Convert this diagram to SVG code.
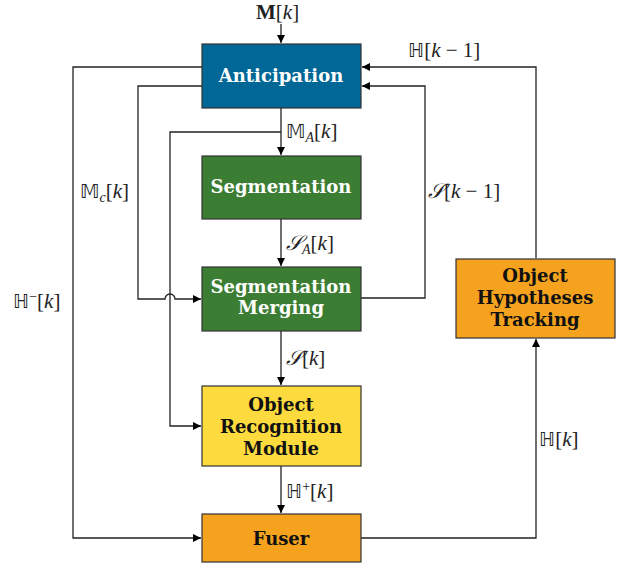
<svg xmlns="http://www.w3.org/2000/svg" width="624" height="567" viewBox="0 0 624 567">
<style>
.box{stroke:#333;stroke-width:1.2}
.t{font-family:"DejaVu Serif","Liberation Serif",serif;font-weight:bold;font-size:18px;text-anchor:middle}
.w{fill:#fff}
.k{fill:#111}
.m{font-family:"Liberation Serif","DejaVu Serif",serif;font-size:21px;fill:#222}
.ds{font-family:"DejaVu Sans",sans-serif;font-size:19px}
.c{fill:none;stroke:#222;stroke-width:1.3}
</style>
<defs>
<marker id="a" viewBox="0 0 10 10" refX="10" refY="5" markerWidth="8" markerHeight="8" markerUnits="userSpaceOnUse" orient="auto">
<path d="M0,0 L10,5 L0,10 z" fill="#000"/>
</marker>
</defs>
<rect width="624" height="567" fill="#fff"/>
<g id="connectors">
<path class="c" d="M281,24 V43" marker-end="url(#a)"/>
<path class="c" d="M281,108 V155" marker-end="url(#a)"/>
<path class="c" d="M281,132 H170 V426 H201" marker-end="url(#a)"/>
<path class="c" d="M281,219 V266" marker-end="url(#a)"/>
<path class="c" d="M281,331 V385" marker-end="url(#a)"/>
<path class="c" d="M281,466 V513" marker-end="url(#a)"/>
<path class="c" d="M202,67 H73 V538 H201" marker-end="url(#a)"/>
<path class="c" d="M202,86 H138 V299 H165 A5,5 0 0 1 175,299 H201" marker-end="url(#a)"/>
<path class="c" d="M361,298 H425 V86 H362" marker-end="url(#a)"/>
<path class="c" d="M536,258 V67 H362" marker-end="url(#a)"/>
<path class="c" d="M361,538 H536 V339" marker-end="url(#a)"/>
</g>
<g id="anticipation">
<rect class="box" x="202" y="44" width="159" height="64" fill="#006796"/>
<text class="t w" x="281" y="82">Anticipation</text>
</g>
<g id="segmentation">
<rect class="box" x="202" y="156" width="159" height="63" fill="#3b7d32"/>
<text class="t w" x="281" y="193">Segmentation</text>
</g>
<g id="segmentation-merging">
<rect class="box" x="202" y="267" width="159" height="64" fill="#3b7d32"/>
<text class="t w" x="281" y="293">Segmentation</text>
<text class="t w" x="281" y="314">Merging</text>
</g>
<g id="object-recognition">
<rect class="box" x="202" y="386" width="159" height="80" fill="#fddb3e"/>
<text class="t k" x="281" y="411">Object</text>
<text class="t k" x="281" y="433">Recognition</text>
<text class="t k" x="281" y="455">Module</text>
</g>
<g id="fuser">
<rect class="box" x="202" y="514" width="159" height="48" fill="#f5a31e"/>
<text class="t k" x="281" y="545">Fuser</text>
</g>
<g id="tracking">
<rect class="box" x="456" y="259" width="159" height="79" fill="#f5a31e"/>
<text class="t k" x="535" y="282">Object</text>
<text class="t k" x="535" y="304">Hypotheses</text>
<text class="t k" x="535" y="326">Tracking</text>
</g>
<g id="labels">
<text class="m" x="256" y="19"><tspan font-weight="bold">M</tspan>[<tspan font-style="italic">k</tspan>]</text>
<text class="m" x="408" y="57"><tspan class="ds">ℍ</tspan>[<tspan font-style="italic">k</tspan> − 1]</text>
<text class="m" x="286" y="138"><tspan class="ds">𝕄</tspan><tspan font-style="italic" font-size="14" dy="4">A</tspan><tspan dy="-4">[</tspan><tspan font-style="italic">k</tspan>]</text>
<text class="m" x="80" y="198"><tspan class="ds">𝕄</tspan><tspan font-style="italic" font-size="14" dy="4">c</tspan><tspan dy="-4">[</tspan><tspan font-style="italic">k</tspan>]</text>
<text class="m" x="428" y="198"><tspan font-style="italic">𝒮</tspan>[<tspan font-style="italic">k</tspan> − 1]</text>
<text class="m" x="286" y="250"><tspan font-style="italic">𝒮</tspan><tspan font-style="italic" font-size="14" dy="4">A</tspan><tspan dy="-4">[</tspan><tspan font-style="italic">k</tspan>]</text>
<text class="m" x="286" y="365"><tspan font-style="italic">𝒮</tspan>[<tspan font-style="italic">k</tspan>]</text>
<text class="m" x="13" y="308"><tspan class="ds">ℍ</tspan><tspan font-size="14" dy="-7">−</tspan><tspan dy="7">[</tspan><tspan font-style="italic">k</tspan>]</text>
<text class="m" x="286" y="498"><tspan class="ds">ℍ</tspan><tspan font-size="14" dy="-7">+</tspan><tspan dy="7">[</tspan><tspan font-style="italic">k</tspan>]</text>
<text class="m" x="539" y="446"><tspan class="ds">ℍ</tspan>[<tspan font-style="italic">k</tspan>]</text>
</g>
</svg>
